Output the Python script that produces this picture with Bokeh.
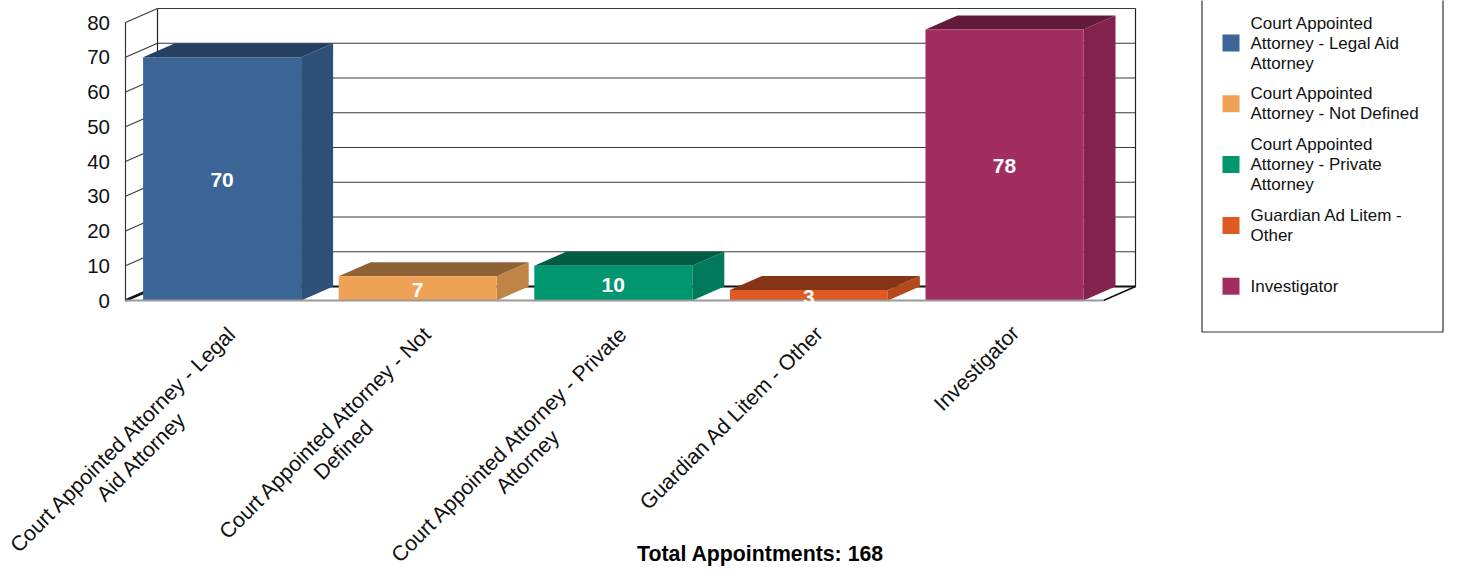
import math
from bokeh.plotting import figure
from bokeh.models import Range1d
from bokeh.embed import file_html
from bokeh.resources import INLINE
from bokeh.core.properties import value

# ---------------- data ----------------
categories = [
    "Court Appointed Attorney - Legal Aid Attorney",
    "Court Appointed Attorney - Not Defined",
    "Court Appointed Attorney - Private Attorney",
    "Guardian Ad Litem - Other",
    "Investigator",
]
counts = [70, 7, 10, 3, 78]
category_label_lines = [
    ["Court Appointed Attorney - Legal", "Aid Attorney"],
    ["Court Appointed Attorney - Not", "Defined"],
    ["Court Appointed Attorney - Private", "Attorney"],
    ["Guardian Ad Litem - Other"],
    ["Investigator"],
]
legend_label_lines = [
    ["Court Appointed", "Attorney - Legal Aid", "Attorney"],
    ["Court Appointed", "Attorney - Not Defined"],
    ["Court Appointed", "Attorney - Private", "Attorney"],
    ["Guardian Ad Litem -", "Other"],
    ["Investigator"],
]
front_colors = ["#3B6597", "#EFA255", "#009670", "#DE5A22", "#A22D5F"]
side_colors = ["#2F5179", "#C08445", "#007A5B", "#B5491B", "#83234D"]
top_colors = ["#243F5F", "#8E6234", "#005C45", "#863416", "#621A3A"]
y_ticks = [0, 10, 20, 30, 40, 50, 60, 70, 80]
title_prefix = "Total Appointments: "

# ---------------- layout (pixels) ----------------
W, H = 1444, 567
X0 = 125.0      # canvas px of x = 0
CAT = 195.6     # px per category
Y0 = 300.0      # canvas px (from top) of y = 0
UNIT = 3.475    # px per count
N = len(categories)
BAR_OFF = 17.6 / CAT
BAR_W = 158.0 / CAT
DX = 32.0 / CAT
DY = 14.0 / UNIT
FONT = value("Liberation Sans")

ARIAL = {' ': 278, '-': 333, 'A': 667, 'C': 722, 'D': 722, 'G': 778, 'I': 278,
         'L': 556, 'N': 722, 'O': 778, 'P': 667, 'a': 556, 'd': 556, 'e': 556,
         'f': 278, 'g': 556, 'h': 556, 'i': 222, 'l': 222, 'm': 833, 'n': 556,
         'o': 556, 'p': 556, 'r': 333, 's': 500, 't': 278, 'u': 556, 'v': 500,
         'y': 500}


def text_width(s, size):
    return sum(ARIAL.get(c, 556) for c in s) / 1000.0 * size


def data_x(px):
    return (px - X0) / CAT


def data_y(py):
    return (Y0 - py) / UNIT


p = figure(width=W, height=H,
           x_range=Range1d(data_x(0), data_x(W)),
           y_range=Range1d(data_y(H), data_y(0)),
           output_backend="svg", toolbar_location=None,
           x_axis_location=None, y_axis_location=None,
           min_border=0, outline_line_color=None,
           background_fill_color="white", border_fill_color="white")
p.grid.visible = False

ymax = y_ticks[-1]

# ---------------- walls ----------------
p.segment(x0=[DX] * len(y_ticks), y0=[t + DY for t in y_ticks],
          x1=[N + DX] * len(y_ticks), y1=[t + DY for t in y_ticks],
          line_color="#3a3a3a", line_width=1.1)
p.segment(x0=[0] * len(y_ticks), y0=y_ticks,
          x1=[DX] * len(y_ticks), y1=[t + DY for t in y_ticks],
          line_color="#3a3a3a", line_width=1.1)
p.segment(x0=[DX, N + DX], y0=[DY, DY], x1=[DX, N + DX], y1=[ymax + DY, ymax + DY],
          line_color="#222222", line_width=1.2)
p.segment(x0=[0], y0=[0], x1=[0], y1=[ymax], line_color="#333333", line_width=1.2)
# floor
p.segment(x0=[DX], y0=[DY], x1=[N + DX], y1=[DY], line_color="#111111", line_width=2)
p.segment(x0=[N], y0=[0], x1=[N + DX], y1=[DY], line_color="#111111", line_width=1.5)
p.segment(x0=[0], y0=[0], x1=[DX], y1=[DY], line_color="#111111", line_width=2.5)

# ---------------- bars ----------------
lefts = [i + BAR_OFF for i in range(N)]
rights = [l + BAR_W for l in lefts]
centers = [(l + r) / 2 for l, r in zip(lefts, rights)]

side_xs = [[r, r + DX, r + DX, r] for r in rights]
side_ys = [[0, DY, v + DY, v] for v in counts]
top_xs = [[l, l + DX, r + DX, r] for l, r in zip(lefts, rights)]
top_ys = [[v, v + DY, v + DY, v] for v in counts]

p.patches(xs=side_xs, ys=side_ys, fill_color=side_colors, line_color=None)
p.patches(xs=top_xs, ys=top_ys, fill_color=top_colors, line_color=None)
p.quad(left=lefts, right=rights, bottom=[0] * N, top=counts,
       fill_color=front_colors, line_color=None)

p.segment(x0=[0], y0=[0], x1=[N], y1=[0], line_color="#9a9a9a", line_width=2)

# value labels
p.text(x=centers, y=[v / 2 for v in counts], text=[str(v) for v in counts],
       y_offset=1.5, text_color="white", text_font=FONT, text_font_style="bold",
       text_font_size="21px", text_align="center", text_baseline="middle")

# ---------------- y tick labels ----------------
p.text(x=[0] * len(y_ticks), y=y_ticks, text=[str(t) for t in y_ticks],
       x_offset=-15.5, text_color="#111111", text_font=FONT,
       text_font_size="20.5px", text_align="right", text_baseline="middle")

# ---------------- category labels (rotated 45 deg) ----------------
ANG = math.pi / 4
LBL_SIZE = 21.3
LINE_H = 25.0
AX, AY = 1.5, 20.5
c45 = math.cos(ANG)
s45 = math.sin(ANG)
l1_x, l1_t = [], []
l2_x, l2_t, l2_xo, l2_yo = [], [], [], []
for i, lines in enumerate(category_label_lines):
    cx = i + 0.5
    l1_x.append(cx)
    l1_t.append(lines[0])
    if len(lines) > 1:
        w1 = text_width(lines[0], LBL_SIZE)
        l2_x.append(cx)
        l2_t.append(lines[1])
        l2_xo.append(AX - w1 / 2 * c45 + LINE_H * s45)
        l2_yo.append(AY + w1 / 2 * s45 + LINE_H * c45)

p.text(x=l1_x, y=[0] * len(l1_x), text=l1_t, angle=ANG,
       x_offset=AX, y_offset=AY, text_color="#111111", text_font=FONT,
       text_font_size=f"{LBL_SIZE}px", text_align="right", text_baseline="top")
p.text(x=l2_x, y=[0] * len(l2_x), text=l2_t, angle=ANG,
       x_offset=l2_xo, y_offset=l2_yo, text_color="#111111", text_font=FONT,
       text_font_size=f"{LBL_SIZE}px", text_align="center", text_baseline="top")

# ---------------- title ----------------
p.text(x=[data_x(760)], y=[data_y(553.5)], text=[title_prefix + str(sum(counts))],
       text_color="#000000", text_font=FONT, text_font_style="bold",
       text_font_size="21.3px", text_align="center", text_baseline="middle")

# ---------------- legend ----------------
LEG_L, LEG_R, LEG_B = 1201.5, 1442.5, 331.5
p.quad(left=[data_x(LEG_L)], right=[data_x(LEG_R)], bottom=[data_y(LEG_B)],
       top=[data_y(-20)], fill_color=None, line_color="#333333", line_width=1.2)
SW_L, SW_R, SW = 1222.0, 1239.0, 17.0
TXT_X = 1250.0
ITEM_Y0, ITEM_STEP, LEG_LH = 42.5, 60.8, 20.0
sw_l, sw_r, sw_b, sw_t = [], [], [], []
lt_x, lt_y, lt_t = [], [], []
for i, lines in enumerate(legend_label_lines):
    cy = ITEM_Y0 + i * ITEM_STEP
    sw_l.append(data_x(SW_L))
    sw_r.append(data_x(SW_R))
    sw_t.append(data_y(cy - SW / 2))
    sw_b.append(data_y(cy + SW / 2))
    n = len(lines)
    for k, ln in enumerate(lines):
        lt_x.append(data_x(TXT_X))
        lt_y.append(data_y(cy + (k - (n - 1) / 2) * LEG_LH))
        lt_t.append(ln)
p.quad(left=sw_l, right=sw_r, bottom=sw_b, top=sw_t,
       fill_color=front_colors, line_color=None)
p.text(x=lt_x, y=lt_y, text=lt_t, text_color="#111111", text_font=FONT,
       text_font_size="17px", text_align="left", text_baseline="middle")

open("out.html", "w").write(file_html(p, INLINE))
